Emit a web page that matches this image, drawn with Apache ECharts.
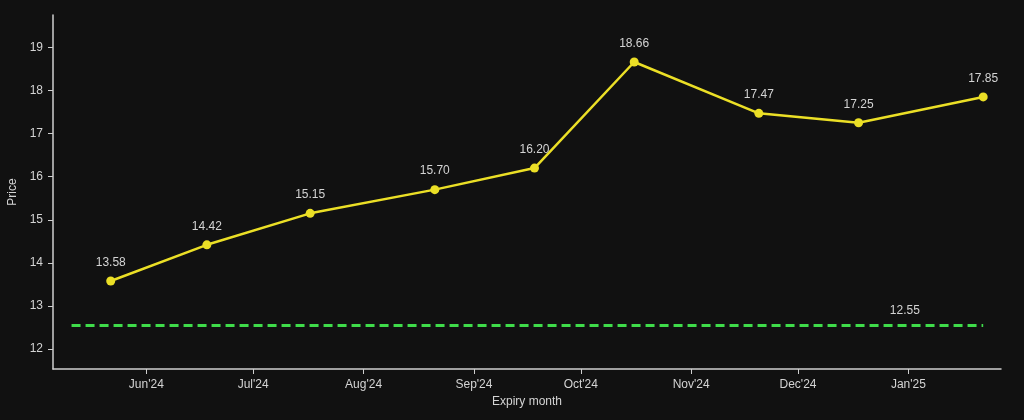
<!DOCTYPE html>
<html lang="en">
<head>
    <meta charset="UTF-8">
    <title>Futures curve</title>
    <style>
        html, body { margin: 0; padding: 0; background: #111111; }
    </style>
</head>
<body>
    <div id="curve" style="width: 1024px;height: 420px"></div>

    <script src="https://cdn.jsdelivr.net/npm/echarts@6/dist/echarts.min.js"></script>
    <script>
        // expiry dates and settle prices
        var expiryDates = ['2024-05-22', '2024-06-18', '2024-07-17', '2024-08-21', '2024-09-18',
                           '2024-10-16', '2024-11-20', '2024-12-18', '2025-01-22'];
        var futures = [13.58, 14.42, 15.15, 15.70, 16.20, 18.66, 17.47, 17.25, 17.85];

        // spot level (dashed line) and where its label sits
        var spotDates = ['2024-05-11', '2025-01-22'];
        var spot = 12.55;
        var spotLabelDate = '2024-12-31';

        var monthTicks = ['2024-06-01', '2024-07-01', '2024-08-01', '2024-09-01',
                          '2024-10-01', '2024-11-01', '2024-12-01', '2025-01-01'];
        var yTicks = [12, 13, 14, 15, 16, 17, 18, 19];
        var monthNames = ['Jan', 'Feb', 'Mar', 'Apr', 'May', 'Jun', 'Jul', 'Aug', 'Sep', 'Oct', 'Nov', 'Dec'];

        function ts(s) {
            var p = s.split('-');
            return new Date(+p[0], p[1] - 1, +p[2]).getTime();
        }

        var txt = '#d4d4d4';
        var axisCol = '#cfcfcf';
        var xTickVals = monthTicks.map(ts);

        var myChart = echarts.init(document.getElementById('curve'));

        // x is a plain value axis holding timestamps, so the month ticks can be placed exactly
        myChart.setOption({
            backgroundColor: '#111111',
            textStyle: { fontFamily: 'Liberation Sans, Arial, sans-serif' },
            animation: false,
            grid: { left: 53, right: 23, top: 15, bottom: 51, outerBoundsMode: 'none', containLabel: false },
            xAxis: {
                type: 'value',
                min: ts('2024-05-06') - 5 * 3600 * 1000,
                max: ts('2025-01-27'),
                name: 'Expiry month',
                nameLocation: 'middle',
                nameGap: 26,
                nameTextStyle: { color: txt, fontSize: 12 },
                axisLine: { lineStyle: { color: axisCol, width: 1.5 } },
                axisTick: {
                    length: 5,
                    lineStyle: { color: axisCol },
                    customValues: xTickVals
                },
                axisLabel: {
                    color: txt,
                    fontSize: 12,
                    margin: 10,
                    customValues: xTickVals,
                    formatter: function (v) {
                        var d = new Date(v);
                        return monthNames[d.getMonth()] + "'" + String(d.getFullYear()).slice(2);
                    }
                },
                splitLine: { show: false }
            },
            yAxis: {
                type: 'value',
                min: 11.54,
                max: 19.75,
                name: 'Price',
                nameLocation: 'middle',
                nameGap: 31,
                nameTextStyle: { color: txt, fontSize: 12 },
                axisLine: { show: true, lineStyle: { color: axisCol, width: 1.5 } },
                axisTick: {
                    show: true,
                    length: 5,
                    lineStyle: { color: axisCol },
                    customValues: yTicks
                },
                axisLabel: {
                    color: txt,
                    fontSize: 12,
                    margin: 10,
                    customValues: yTicks
                },
                splitLine: { show: false }
            },
            series: [
                {
                    name: 'Spot',
                    type: 'line',
                    data: spotDates.map(function (d) { return [ts(d), spot]; }),
                    symbol: 'none',
                    lineStyle: { color: '#3fdc4a', width: 3, type: [9, 5] },
                    z: 1
                },
                {
                    name: 'Spot label',
                    type: 'scatter',
                    data: [[ts(spotLabelDate), spot]],
                    symbolSize: 2,
                    itemStyle: { color: 'rgba(0,0,0,0)', opacity: 1 },
                    label: {
                        show: true,
                        position: 'top',
                        distance: 8,
                        color: txt,
                        fontSize: 12,
                        formatter: function (p) {
                            return p.value[1].toFixed(2);
                        }
                    },
                    z: 1
                },
                {
                    name: 'Futures',
                    type: 'line',
                    data: expiryDates.map(function (d, i) { return [ts(d), futures[i]]; }),
                    symbol: 'circle',
                    symbolSize: 9,
                    itemStyle: { color: '#ebdf26' },
                    lineStyle: { color: '#ebdf26', width: 2.5 },
                    label: {
                        show: true,
                        position: 'top',
                        distance: 8,
                        color: txt,
                        fontSize: 12,
                        formatter: function (p) {
                            return p.value[1].toFixed(2);
                        }
                    },
                    z: 2
                }
            ]
        });
    </script>
</body>
</html>
